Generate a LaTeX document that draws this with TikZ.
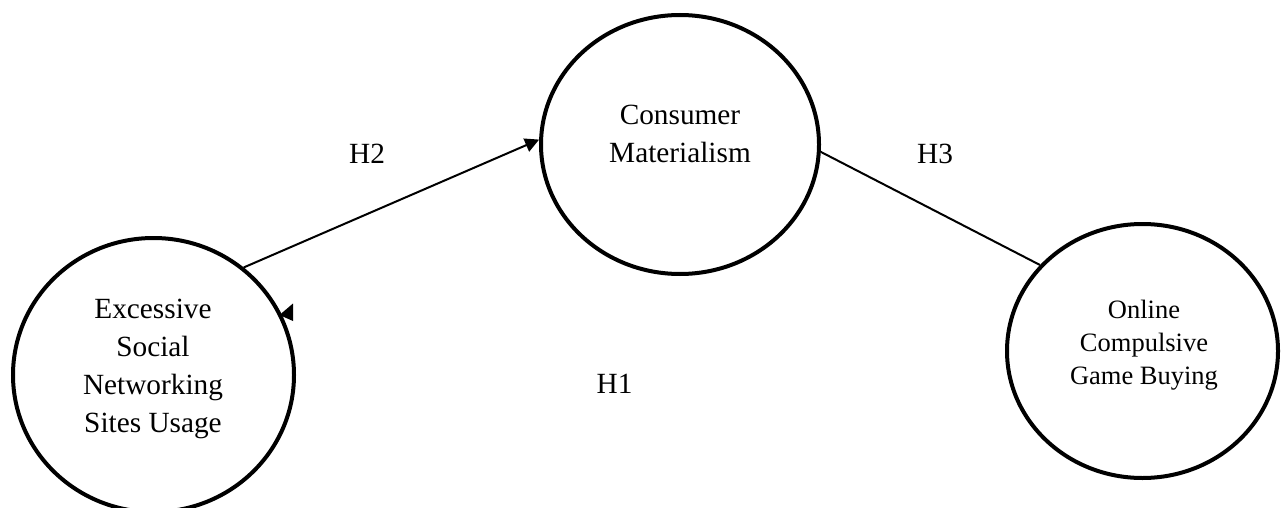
\documentclass[tikz,border=0pt]{standalone}
\usepackage{fontspec}
\setmainfont{Liberation Serif}
\usetikzlibrary{shapes.geometric,arrows.meta}
\begin{document}
\begin{tikzpicture}[x=1pt,y=-1pt,
  construct/.style={ellipse, draw, line width=4pt, inner sep=0pt},
  conn/.style={line width=2pt},
  bigtext/.style={font=\fontsize{29.3}{38.3}\selectfont, align=center, inner sep=0pt},
  smalltext/.style={font=\fontsize{26.5}{33}\selectfont, align=center, inner sep=0pt},
  hlabel/.style={font=\fontsize{29.3}{38.3}\selectfont, inner sep=0pt, anchor=base}]
\useasboundingbox (0,0) rectangle (1282,508);
% constructs
\node[construct, minimum width=281pt, minimum height=274pt] (esns) at (153.5,375) {};
\node[construct, minimum width=278pt, minimum height=259pt] (cm) at (680,144.5) {};
\node[construct, minimum width=271pt, minimum height=254pt] (ocgb) at (1142.5,351) {};
% texts
\node[bigtext] (esnst) at (153,369) {Excessive\\Social\\Networking\\Sites Usage};
\node[bigtext] (cmt) at (680,134) {Consumer\\Materialism};
\node[smalltext] (ocgbt) at (1144,345) {Online\\Compulsive\\Game Buying};
% connectors
\draw[conn, -{Triangle[length=14pt,width=14pt]}] (esns.50.3) -- (cm.178);
\draw[conn] (cm.357.4) -- (ocgb.140.3);
\coordinate (h1tip) at (279.5,315);
\fill (h1tip) -- ++(13.5,-11.5) -- ++(0,17.5) -- cycle;
% labels
\node[hlabel] (h2) at (367,163) {H2};
\node[hlabel] (h3) at (935,163) {H3};
\node[hlabel] (h1) at (614.5,393) {H1};
\end{tikzpicture}
\end{document}
